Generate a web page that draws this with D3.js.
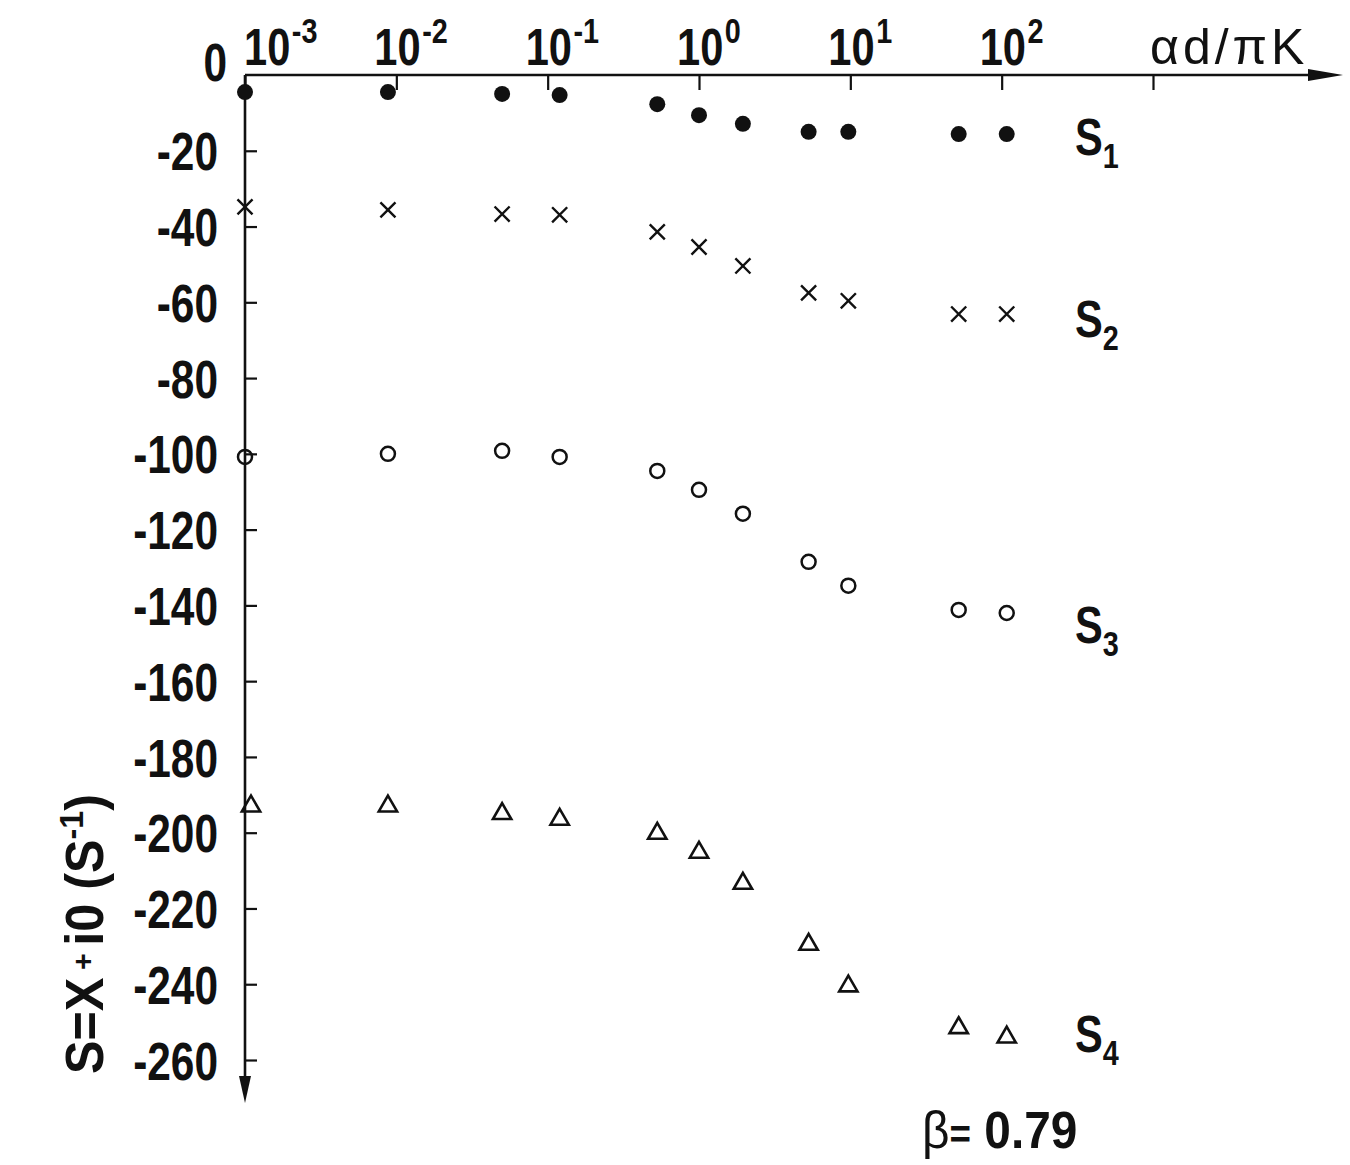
<!DOCTYPE html>
<html>
<head>
<meta charset="utf-8">
<script src="https://cdn.jsdelivr.net/npm/d3@7"></script>
<style>
  html, body { margin: 0; padding: 0; background: #fff; }
  svg text { font-family: "Liberation Sans", Arial, sans-serif; fill: #111; }
</style>
</head>
<body>
<svg id="chart" width="1350" height="1165"></svg>
<script>
// ---- data ----
const xValues = [0.001, 0.0088, 0.05, 0.12, 0.53, 1.0, 1.95, 5.3, 9.7, 52, 108];
const s1 = [-4.5, -4.5, -5.0, -5.3, -7.7, -10.6, -12.9, -15.0, -15.0, -15.6, -15.6];
const s2 = [-34.8, -35.6, -36.7, -36.9, -41.4, -45.4, -50.4, -57.5, -59.6, -63.1, -63.1];
const s3 = [-100.8, -100.0, -99.2, -100.8, -104.5, -109.5, -115.8, -128.5, -134.8, -141.2, -142.0];
const s4 = [-193.0, -193.0, -195.0, -196.5, -200.2, -205.2, -213.4, -229.5, -240.5, -251.5, -254.0];
const seriesNames = ["S1", "S2", "S3", "S4"];
const xTickExps = [-3, -2, -1, 0, 1, 2];
const xTickExtra = [3];
const yTickValues = [0, -20, -40, -60, -80, -100, -120, -140, -160, -180, -200, -220, -240, -260];
const xAxisTitle = "αd/πK";
const yAxisTitle = ["S=X", "+", "i0 (S", "-1", ")"];
const betaLabel = ["β", "=", " 0.79"];

// ---- layout ----
const SX = 0.8; // horizontal condensation of the type
const svg = d3.select("#chart");
svg.append("rect").attr("width", 1350).attr("height", 1165).attr("fill", "#fff");

const x = d3.scaleLog().domain([1e-3, 1e3]).range([245, 1153]);
const y = d3.scaleLinear().domain([0, -260]).range([75, 1060]);
const x0 = x(1e-3), y0 = y(0);

function ctext(px, py, size, weight, anchor, sx) {
  const g = svg.append("g").attr("transform", `translate(${px},${py}) scale(${sx || SX},1)`);
  return g.append("text").attr("font-size", size).attr("font-weight", weight || "bold")
    .attr("text-anchor", anchor || "start");
}

// top (x) axis: ticks downward
const xAxis = d3.axisBottom(x)
  .tickValues(xTickExps.concat(xTickExtra).map(e => Math.pow(10, e)))
  .tickSizeInner(15).tickSizeOuter(0).tickFormat("");
const gx = svg.append("g").attr("transform", `translate(0,${y0})`).call(xAxis);
gx.select(".domain").remove();
gx.selectAll(".tick line").attr("stroke", "#111").attr("stroke-width", 2.2);

svg.append("line").attr("x1", x0).attr("x2", 1318).attr("y1", y0).attr("y2", y0)
  .attr("stroke", "#111").attr("stroke-width", 2.6);
svg.append("path").attr("d", `M1308,${y0-6} L1343,${y0} L1308,${y0+6} Z`).attr("fill", "#111");

// x tick labels 10^n
xTickExps.forEach(e => {
  const px = x(Math.pow(10, e));
  const t = ctext(e === -3 ? px - 1 : px - 22, 65, 52, "bold");
  t.append("tspan").text("10");
  t.append("tspan").attr("font-size", 36).attr("dx", 2).attr("dy", -22).text(e < 0 ? "-" + Math.abs(e) : String(e));
});
ctext(1150, 64, 50, "normal", "start", 1.0).attr("letter-spacing", 4).text(xAxisTitle);

// left (y) axis: ticks to the right, labels on the left
const yAxis = d3.axisLeft(y).tickValues(yTickValues).tickSizeInner(-12).tickSizeOuter(0)
  .tickPadding(27).tickFormat(d => String(d));
const gy = svg.append("g").attr("transform", `translate(${x0},0)`).call(yAxis);
gy.select(".domain").remove();
gy.selectAll(".tick line").attr("stroke", "#111").attr("stroke-width", 2.2)
  .filter(d => d === 0).remove();
gy.selectAll(".tick text").attr("font-size", 53).attr("font-weight", "bold")
  .attr("fill", "#111")
  .style("font-family", '"Liberation Sans", Arial, sans-serif')
  .attr("transform", `scale(${SX},1)`)
  .attr("dy", d => d === 0 ? "0.1em" : "0.36em")
  .attr("x", d => (d === 0 ? -18 : -27) / SX);

svg.append("line").attr("x1", x0).attr("x2", x0).attr("y1", y0).attr("y2", 1085)
  .attr("stroke", "#111").attr("stroke-width", 2.6);
svg.append("path").attr("d", `M${x0-6},1076 L${x0},1103 L${x0+6},1076 Z`).attr("fill", "#111");

// y axis title (rotated)
const ytg = svg.append("g").attr("transform", `translate(103,934) rotate(-90) scale(0.95,1)`);
const yt = ytg.append("text").attr("text-anchor", "middle").attr("font-size", 53).attr("font-weight", "bold");
yt.append("tspan").text(yAxisTitle[0]);
yt.append("tspan").attr("font-size", 30).attr("dy", -10).attr("dx", 8).text(yAxisTitle[1]);
yt.append("tspan").attr("dy", 10).attr("dx", 8).text(yAxisTitle[2]);
yt.append("tspan").attr("font-size", 34).attr("dy", -20).text(yAxisTitle[3]);
yt.append("tspan").attr("dy", 20).text(yAxisTitle[4]);

// ---- marks ----
const pts = (vals) => xValues.map((xv, i) => ({ x: xv, y: vals[i] }));

// S1 filled circles
svg.append("g").selectAll("circle").data(pts(s1)).join("circle")
  .attr("cx", d => x(d.x)).attr("cy", d => y(d.y)).attr("r", 8).attr("fill", "#111");

// S2 crosses
svg.append("g").selectAll("path").data(pts(s2)).join("path")
  .attr("transform", d => `translate(${x(d.x)},${y(d.y)})`)
  .attr("d", d3.symbol(d3.symbolTimes, 150)())
  .attr("fill", "none").attr("stroke", "#111").attr("stroke-width", 2.4);

// S3 open circles
svg.append("g").selectAll("circle").data(pts(s3)).join("circle")
  .attr("cx", d => x(d.x)).attr("cy", d => y(d.y)).attr("r", 7)
  .attr("fill", "none").attr("stroke", "#111").attr("stroke-width", 2.5);

// S4 open triangles
svg.append("g").selectAll("path").data(pts(s4)).join("path")
  .attr("transform", (d, i) => `translate(${x(d.x) + (i === 0 ? 6 : 0)},${y(d.y)})`)
  .attr("d", d3.symbol(d3.symbolTriangle2, 240)())
  .attr("fill", "none").attr("stroke", "#111").attr("stroke-width", 2.6);

// series labels
const labelY = [155, 337, 643, 1052];
seriesNames.forEach((n, i) => {
  const t = ctext(1075, labelY[i], 52, "bold");
  t.append("tspan").text(n[0]);
  t.append("tspan").attr("font-size", 36).attr("dy", 13).text(n.slice(1));
});

// beta label
const bt = ctext(922, 1148, 52, "bold", "start", 0.92);
bt.append("tspan").attr("font-weight", "normal").text(betaLabel[0]);
bt.append("tspan").attr("font-size", 40).text(betaLabel[1]);
bt.append("tspan").text(betaLabel[2]);
</script>
</body>
</html>
